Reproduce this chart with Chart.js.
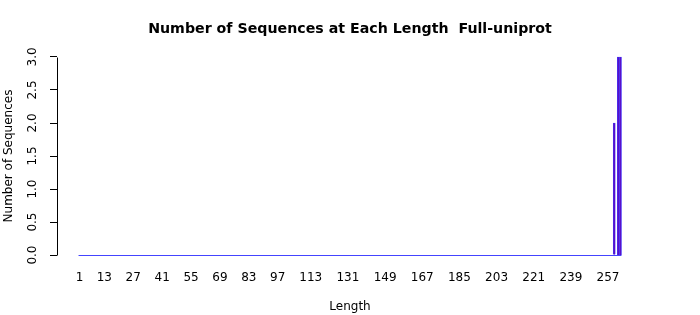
<!DOCTYPE html>
<html>
<head>
<meta charset="utf-8">
<script src="https://cdn.jsdelivr.net/npm/chart.js@4/dist/chart.umd.min.js"></script>
<style>
  body { margin: 0; background: #fff; }
</style>
</head>
<body>
<canvas id="lengthChart" width="700" height="315"></canvas>
<script>
// counts per sequence length (lengths 1..263)
var counts = [
  0,0,0,0,0,0,0,0,0,0, 0,0,0,0,0,0,0,0,0,0, 0,0,0,0,0,0,0,0,0,0,
  0,0,0,0,0,0,0,0,0,0, 0,0,0,0,0,0,0,0,0,0, 0,0,0,0,0,0,0,0,0,0,
  0,0,0,0,0,0,0,0,0,0, 0,0,0,0,0,0,0,0,0,0, 0,0,0,0,0,0,0,0,0,0,
  0,0,0,0,0,0,0,0,0,0, 0,0,0,0,0,0,0,0,0,0, 0,0,0,0,0,0,0,0,0,0,
  0,0,0,0,0,0,0,0,0,0, 0,0,0,0,0,0,0,0,0,0, 0,0,0,0,0,0,0,0,0,0,
  0,0,0,0,0,0,0,0,0,0, 0,0,0,0,0,0,0,0,0,0, 0,0,0,0,0,0,0,0,0,0,
  0,0,0,0,0,0,0,0,0,0, 0,0,0,0,0,0,0,0,0,0, 0,0,0,0,0,0,0,0,0,0,
  0,0,0,0,0,0,0,0,0,0, 0,0,0,0,0,0,0,0,0,0, 0,0,0,0,0,0,0,0,0,0,
  0,0,0,0,0,0,0,0,0,0, 0,0,0,0,0,0,0,0,0,
  2, 0, 3, 3
];
var lengths = counts.map(function (c, i) { return i + 1; });
var xTickLabels = [1, 13, 27, 41, 55, 69, 83, 97, 113, 131, 149, 167, 185, 203, 221, 239, 257];
var yTicks = [0, 0.5, 1, 1.5, 2, 2.5, 3];

var font = 'DejaVu Sans';

// R style: axis line that only spans the tick range, plus rotated tick text
var rAxis = {
    id: 'rAxis',
    afterDraw(chart) {
        const { ctx, chartArea: { left }, scales: { y } } = chart;
        const top = y.getPixelForValue(yTicks[yTicks.length - 1]);
        const bottom = y.getPixelForValue(yTicks[0]);
        ctx.save();
        ctx.strokeStyle = '#000';
        ctx.lineWidth = 1;
        ctx.beginPath();
        ctx.moveTo(left + 0.5, Math.round(top) + 0.5);
        ctx.lineTo(left + 0.5, Math.round(bottom) + 0.5);
        ctx.stroke();

        ctx.font = '12px ' + font;
        ctx.fillStyle = '#000';
        ctx.textAlign = 'center';
        ctx.textBaseline = 'middle';
        yTicks.forEach(function (v) {
            ctx.save();
            ctx.translate(33, y.getPixelForValue(v));
            ctx.rotate(-Math.PI / 2);
            ctx.fillText(v.toFixed(1), 0, 0);
            ctx.restore();
        });
        ctx.restore();
    }
};

// zero height bars still show their border as a line along the base
var barBase = {
    id: 'barBase',
    afterDatasetsDraw(chart) {
        const { ctx, scales: { y } } = chart;
        const bars = chart.getDatasetMeta(0).data;
        const first = bars[0], last = bars[bars.length - 1];
        const y0 = Math.round(y.getPixelForValue(0)) + 0.5;
        ctx.save();
        ctx.strokeStyle = '#4444ff';
        ctx.lineWidth = 1;
        ctx.beginPath();
        ctx.moveTo(first.x - first.width / 2, y0);
        ctx.lineTo(last.x + last.width / 2, y0);
        ctx.stroke();
        ctx.restore();
    }
};

new Chart(document.getElementById('lengthChart'), {
    type: 'bar',
    data: {
        datasets: [{
            data: lengths.map(function (l, i) { return { x: l, y: counts[i] }; }),
            backgroundColor: '#5a0fc8',
            borderColor: '#3c3cff',
            borderWidth: 0.6,
            borderSkipped: 'start',
            categoryPercentage: 1,
            barPercentage: 1
        }]
    },
    options: {
        responsive: false,
        animation: false,
        layout: { padding: 0 },
        plugins: {
            legend: { display: false },
            tooltip: { enabled: false },
            title: {
                display: true,
                text: 'Number of Sequences at Each Length  Full-uniprot',
                color: '#000',
                font: { family: font, size: 14.2, weight: 'bold' },
                padding: { top: 20.5, bottom: 11.5 }
            }
        },
        scales: {
            x: {
                type: 'linear',
                offset: false,
                min: -9.93,
                max: 273.93,
                afterBuildTicks(scale) {
                    scale.ticks = xTickLabels.map(function (v) { return { value: v }; });
                },
                afterFit(scale) { scale.height = 52; },
                grid: { display: false, drawTicks: false },
                border: { display: false },
                ticks: {
                    autoSkip: false,
                    maxRotation: 0,
                    padding: 8,
                    color: '#000',
                    font: { family: font, size: 12 },
                    callback: function (v) { return String(v); }
                },
                title: {
                    display: true,
                    text: 'Length',
                    color: '#000',
                    font: { family: font, size: 12 },
                    padding: { top: 0, bottom: 1 }
                }
            },
            y: {
                min: -0.12,
                max: 3.12,
                afterBuildTicks(scale) {
                    scale.ticks = yTicks.map(function (v) { return { value: v }; });
                },
                afterFit(scale) { scale.width = 57; },
                grid: { drawOnChartArea: false, drawTicks: true, tickLength: 7, color: '#000' },
                border: { display: false },
                ticks: { display: false },
                title: {
                    display: true,
                    text: 'Number of Sequences',
                    color: '#000',
                    font: { family: font, size: 12 },
                    padding: { top: 2, bottom: 0 }
                }
            },
            // empty right margin so the title centres on the plot like R does
            yRight: {
                position: 'right',
                afterFit(scale) { scale.width = 57; },
                grid: { display: false },
                border: { display: false },
                ticks: { display: false }
            }
        }
    },
    plugins: [barBase, rAxis]
});
</script>
</body>
</html>
